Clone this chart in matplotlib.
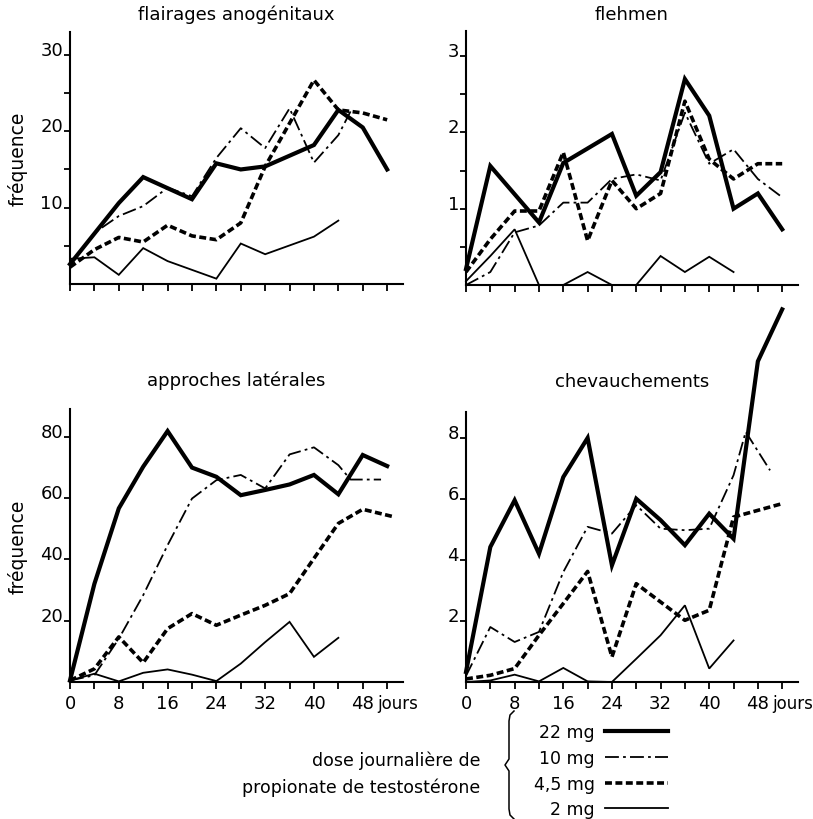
import matplotlib.pyplot as plt
from matplotlib.lines import Line2D
from matplotlib import transforms

plt.rcParams['font.family'] = ['DejaVu Sans']
plt.rcParams['lines.scale_dashes'] = False

# ---- flairages anogenitaux ----
fa_x_22 = [0, 8, 12, 20, 24, 28, 32, 40, 44, 48, 52]
fa_y_22 = [2.6, 10.6, 14.0, 11.1, 15.8, 15.0, 15.4, 18.2, 22.8, 20.5, 15.0]
fa_x_10 = [0, 4, 8, 12, 16, 20, 24, 28, 32, 36, 40, 44, 46]
fa_y_10 = [2.4, 6.7, 8.9, 10.2, 12.6, 11.5, 16.5, 20.4, 17.8, 23.0, 15.9, 19.5, 22.6]
fa_x_45 = [0, 4, 8, 12, 16, 20, 24, 28, 32, 40, 44, 48, 52]
fa_y_45 = [2.2, 4.5, 6.1, 5.5, 7.7, 6.3, 5.8, 8.0, 15.4, 26.7, 22.8, 22.4, 21.5]
fa_x_2 = [0, 4, 8, 12, 16, 24, 28, 32, 40, 44]
fa_y_2 = [3.3, 3.5, 1.2, 4.7, 3.0, 0.7, 5.3, 3.9, 6.2, 8.3]

# ---- flehmen ----
fl_x_22 = [0, 4, 12, 16, 24, 28, 32, 36, 40, 44, 48, 52]
fl_y_22 = [0.21, 1.56, 0.82, 1.6, 1.98, 1.17, 1.48, 2.7, 2.22, 1.0, 1.2, 0.73]
fl_x_10 = [0, 4, 8, 12, 16, 20, 24, 28, 32, 36, 40, 44, 48, 52]
fl_y_10 = [0.0, 0.17, 0.69, 0.78, 1.08, 1.08, 1.39, 1.45, 1.37, 2.26, 1.59, 1.78, 1.39, 1.15]
fl_x_45 = [0, 4, 8, 12, 16, 20, 24, 28, 32, 36, 40, 44, 48, 52]
fl_y_45 = [0.17, 0.6, 0.97, 0.97, 1.74, 0.58, 1.37, 1.0, 1.2, 2.41, 1.65, 1.39, 1.59, 1.59]
fl_x_2 = [0, 4, 8, 12, 16, 20, 24, 28, 32, 36, 40, 44]
fl_y_2 = [0.05, 0.38, 0.73, 0.0, 0.0, 0.17, 0.0, 0.0, 0.38, 0.17, 0.37, 0.17]

# ---- approches laterales ----
al_x_22 = [0, 4, 8, 12, 16, 20, 24, 28, 32, 36, 40, 44, 48, 52]
al_y_22 = [0.5, 32, 56.6, 70.2, 81.8, 69.9, 66.9, 60.9, 62.6, 64.4, 67.5, 61.2, 74.0, 70.4]
al_x_10 = [0, 4, 8, 12, 16, 20, 24, 28, 32, 36, 40, 44, 46, 51]
al_y_10 = [0.5, 2.2, 14.1, 28.3, 44.6, 59.8, 65.8, 67.5, 63.1, 74.2, 76.5, 70.7, 66.0, 66.0]
al_x_45 = [0, 4, 8, 12, 16, 20, 24, 28, 32, 36, 40, 44, 48, 53]
al_y_45 = [0.5, 4.3, 14.7, 6.3, 17.4, 22.3, 18.5, 21.8, 25.0, 28.8, 40.3, 51.7, 56.3, 53.9]
al_x_2 = [0, 4, 8, 12, 16, 20, 24, 28, 32, 36, 40, 44]
al_y_2 = [0.5, 2.7, 0.2, 3.0, 4.1, 2.4, 0.3, 6.0, 13.0, 19.6, 8.2, 14.4]

# ---- chevauchements ----
ch_x_22 = [0, 4, 8, 12, 16, 20, 24, 28, 32, 36, 40, 44, 48, 52]
ch_y_22 = [0.33, 4.42, 5.95, 4.2, 6.71, 7.99, 3.82, 6.0, 5.3, 4.48, 5.51, 4.69, 10.5, 12.2]
ch_x_10 = [0, 4, 8, 12, 16, 20, 24, 28, 32, 36, 40, 44, 46, 50]
ch_y_10 = [0.2, 1.8, 1.31, 1.64, 3.6, 5.08, 4.86, 5.79, 5.02, 4.97, 5.02, 6.77, 8.19, 6.93]
ch_x_45 = [0, 4, 8, 12, 16, 20, 24, 28, 32, 36, 40, 44, 52]
ch_y_45 = [0.1, 0.22, 0.44, 1.53, 2.57, 3.62, 0.82, 3.22, 2.62, 2.02, 2.35, 5.4, 5.84]
ch_x_2 = [0, 4, 8, 12, 16, 20, 24, 28, 32, 36, 40, 44]
ch_y_2 = [0.0, 0.05, 0.24, 0.02, 0.46, 0.02, 0.0, 0.76, 1.53, 2.51, 0.44, 1.36]

doses = ["22 mg", "10 mg", "4,5 mg", "2 mg"]
styles = [
    dict(lw=3.0, ls='-'),
    dict(lw=1.3, ls=(0, (10, 3, 2, 3))),
    dict(lw=2.6, ls=(0, (5, 2.5))),
    dict(lw=1.3, ls='-'),
]

W, H = 813, 820
fig = plt.figure(figsize=(W / 100, H / 100), dpi=100)


def make_ax(x0, y_top, y_bot, x1):
    return fig.add_axes([x0 / W, 1 - y_bot / H, (x1 - x0) / W, (y_bot - y_top) / H])


def setup(ax, title, ymax, yticks, yminor, ylab, xlabels, tpad):
    for s in ['top', 'right']:
        ax.spines[s].set_visible(False)
    for s in ['left', 'bottom']:
        ax.spines[s].set_linewidth(1.5)
    ax.set_xlim(0, 54.6)
    ax.set_ylim(0, ymax)
    ax.set_xticks(range(0, 53, 4))
    ax.tick_params(axis='x', length=5, width=1.3, pad=4, labelsize=13)
    if xlabels:
        ax.set_xticklabels([str(d) if d % 8 == 0 else '' for d in range(0, 53, 4)])
        tr = transforms.blended_transform_factory(ax.transData, ax.transAxes)
        ax.annotate('jours', xy=(50.3, 0), xycoords=tr, xytext=(0, -9),
                    textcoords='offset points', fontsize=12, va='top', ha='left')
    else:
        ax.set_xticklabels([])
    ax.set_yticks(yticks)
    ax.set_yticklabels([f"{v:g}" for v in yticks])
    ax.set_yticks(yminor, minor=True)
    ax.tick_params(axis='y', which='both', length=4, width=1.3, pad=1, labelsize=13)
    for lab in ax.get_yticklabels():
        lab.set_verticalalignment('baseline')
    if ylab:
        ax.set_ylabel('fréquence', fontsize=13.5)
        ax.yaxis.set_label_coords(-0.128, 0.5)
    ax.set_title(title, fontsize=13, pad=tpad)


panels = [
    (make_ax(70, 33, 285, 403), 'flairages anogénitaux', 33, [10, 20, 30], [5, 15, 25], True, False, 9,
     [(fa_x_22, fa_y_22), (fa_x_10, fa_y_10), (fa_x_45, fa_y_45), (fa_x_2, fa_y_2)]),
    (make_ax(466, 32, 286, 798), 'flehmen', 3.33, [1, 2, 3], [0.5, 1.5, 2.5], False, False, 9,
     [(fl_x_22, fl_y_22), (fl_x_10, fl_y_10), (fl_x_45, fl_y_45), (fl_x_2, fl_y_2)]),
    (make_ax(70, 410, 683, 403), 'approches latérales', 89, [20, 40, 60, 80], [], True, True, 17,
     [(al_x_22, al_y_22), (al_x_10, al_y_10), (al_x_45, al_y_45), (al_x_2, al_y_2)]),
    (make_ax(466, 413, 683, 798), 'chevauchements', 8.84, [2, 4, 6, 8], [], False, True, 19,
     [(ch_x_22, ch_y_22), (ch_x_10, ch_y_10), (ch_x_45, ch_y_45), (ch_x_2, ch_y_2)]),
]

for ax, title, ymax, yt, ym, ylab, xlab, tpad, series in panels:
    setup(ax, title, ymax, yt, ym, ylab, xlab, tpad)
    for (xs, ys), st in zip(series, styles):
        ax.plot(xs, ys, color='black', clip_on=False, solid_joinstyle='miter',
                dash_capstyle='butt', **st)

# legend
handles = [Line2D([], [], color='black', **st) for st in styles]
fig.legend(handles, doses, loc='upper left', bbox_to_anchor=(534 / W, 1 - 724 / H),
           frameon=False, markerfirst=False, fontsize=12.5, handlelength=3.6,
           handletextpad=0.6, labelspacing=0.45, borderpad=0, borderaxespad=0)
fig.text(480 / W, 1 - 761 / H, 'dose journalière de', ha='right', va='center', fontsize=12.5)
fig.text(480 / W, 1 - 788 / H, 'propionate de testostérone', ha='right', va='center', fontsize=12.5)

# brace
bx = [514, 510, 509, 509, 505, 509, 509, 510, 514]
by = [712, 716, 722, 760, 766, 772, 810, 816, 820]
fig.add_artist(Line2D([v / W for v in bx], [1 - v / H for v in by], color='black', lw=1.1,
                      transform=fig.transFigure))

fig.savefig('out.png', dpi=100)
